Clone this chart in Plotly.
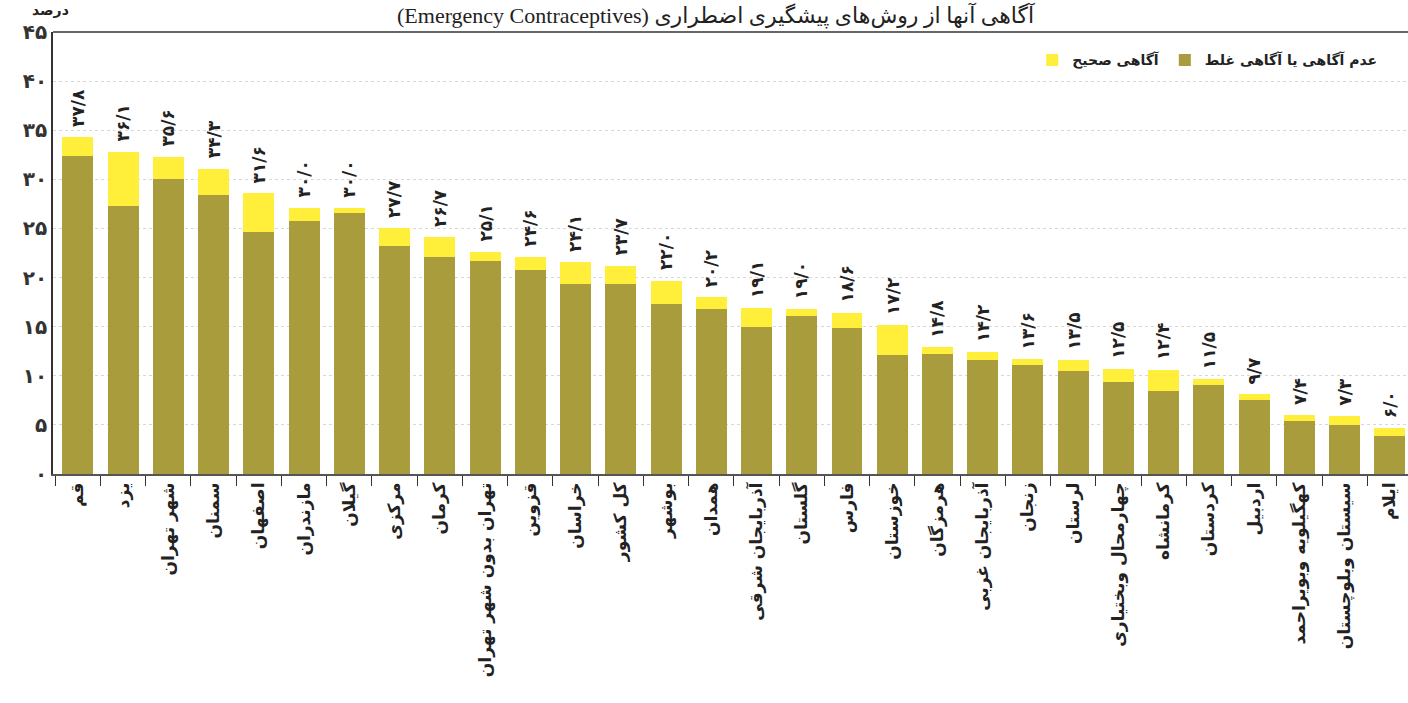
import plotly.graph_objects as go

provinces = ["قم", "یزد", "شهر تهران", "سمنان", "اصفهان", "مازندران", "گیلان", "مرکزی",
             "کرمان", "تهران بدون شهر تهران", "قزوین", "خراسان", "کل کشور", "بوشهر", "همدان",
             "آذربایجان شرقی", "گلستان", "فارس", "خوزستان", "هرمزگان", "آذربایجان غربی",
             "زنجان", "لرستان", "چهارمحال وبختیاری", "کرمانشاه", "کردستان", "اردبیل",
             "کهگیلویه وبویراحمد", "سیستان وبلوچستان", "ایلام"]

# heights of the olive segment (no / wrong awareness) as drawn
wrong_or_none = [32.4, 27.3, 30.0, 28.4, 24.6, 25.8, 26.6, 23.2, 22.1, 21.7, 20.8, 19.3, 19.3,
                 17.3, 16.8, 15.0, 16.1, 14.9, 12.1, 12.2, 11.6, 11.1, 10.5, 9.4, 8.5, 9.1,
                 7.5, 5.4, 5.0, 3.9]
# heights of the yellow segment (correct awareness) as drawn
correct = [1.9, 5.5, 2.3, 2.7, 4.0, 1.3, 0.5, 1.8, 2.0, 0.9, 1.3, 2.3, 1.9, 2.4, 1.2, 1.9,
           0.7, 1.5, 3.1, 0.7, 0.8, 0.6, 1.1, 1.3, 2.1, 0.6, 0.6, 0.6, 0.9, 0.8]
# printed value labels
value_labels = ["۳۷/۸", "۳۶/۱", "۳۵/۶", "۳۴/۳", "۳۱/۶", "۳۰/۰", "۳۰/۰", "۲۷/۷", "۲۶/۷",
                "۲۵/۱", "۲۴/۶", "۲۴/۱", "۲۳/۷", "۲۲/۰", "۲۰/۲", "۱۹/۱", "۱۹/۰", "۱۸/۶",
                "۱۷/۲", "۱۴/۸", "۱۴/۲", "۱۳/۶", "۱۳/۵", "۱۲/۵", "۱۲/۴", "۱۱/۵", "۹/۷",
                "۷/۴", "۷/۳", "۶/۰"]

y_tick_vals = [0, 5, 10, 15, 20, 25, 30, 35, 40, 45]
y_tick_text = ["۰", "۵", "۱۰", "۱۵", "۲۰", "۲۵", "۳۰", "۳۵", "۴۰", "۴۵"]

OLIVE = "#A99C3C"
YELLOW = "#FFEE3A"
FONT = "DejaVu Sans"

fig = go.Figure()
fig.add_trace(go.Bar(x=provinces, y=wrong_or_none, name="عدم آگاهی یا آگاهی غلط",
                     marker=dict(color=OLIVE, line=dict(width=0))))
fig.add_trace(go.Bar(x=provinces, y=correct, name="آگاهی صحیح",
                     marker=dict(color=YELLOW, line=dict(width=0))))

totals = [a + b for a, b in zip(wrong_or_none, correct)]
for p, t, lab in zip(provinces, totals, value_labels):
    fig.add_annotation(x=p, y=t, text=lab, textangle=-90, showarrow=False,
                       xref="x", yref="y", yanchor="bottom", yshift=8,
                       font=dict(family=FONT, size=17, color="#222222", weight="bold"))

# title and unit label at the very top
fig.add_annotation(xref="paper", yref="paper", x=0.489, y=1, yanchor="top", yshift=32,
                   text="(Emergency Contraceptives) آگاهی آنها از روش‌های پیشگیری اضطراری",
                   showarrow=False,
                   font=dict(family="Liberation Serif, DejaVu Sans", size=22, color="#222222"))
fig.add_annotation(xref="paper", yref="paper", x=-0.017, y=1, yanchor="top", yshift=32,
                   text="درصد", showarrow=False,
                   font=dict(family=FONT, size=14, color="#222222", weight="bold"))

# top frame line
fig.add_shape(type="line", xref="paper", yref="paper", x0=0, x1=1, y0=1, y1=1,
              line=dict(color="#333333", width=1.5))

fig.update_layout(
    width=1408, height=703,
    barmode="stack", bargap=0.316,
    plot_bgcolor="white", paper_bgcolor="white",
    margin=dict(l=53, r=0, t=32, b=229, autoexpand=False),
    showlegend=True,
    legend=dict(orientation="h", x=0.981, xanchor="right", y=0.936, yanchor="middle",
                traceorder="reversed", font=dict(family=FONT, size=14, color="#222222", weight="bold"),
                bgcolor="rgba(0,0,0,0)", itemwidth=30),
    xaxis=dict(type="category", range=[-0.55, 29.4], tickangle=-90, automargin=False,
               tickfont=dict(family=FONT, size=17, color="#222222", weight="bold"),
               showline=True, linecolor="#555555", linewidth=1.5,
               ticks="outside", tickson="boundaries", ticklen=10, tickcolor="#333333",
               showgrid=False),
    yaxis=dict(range=[0, 45], tickvals=y_tick_vals, ticktext=y_tick_text, automargin=False,
               tickfont=dict(family=FONT, size=20, color="#333333", weight="bold"),
               showline=True, linecolor="#333333", linewidth=1.5,
               showgrid=True, gridcolor="#d8d8d8", griddash="dot", gridwidth=1,
               zeroline=False, ticks=""),
)

fig.write_html("out.html", config={"displayModeBar": False},
               post_script="document.body.style.margin='0';document.body.style.overflow='hidden';")
